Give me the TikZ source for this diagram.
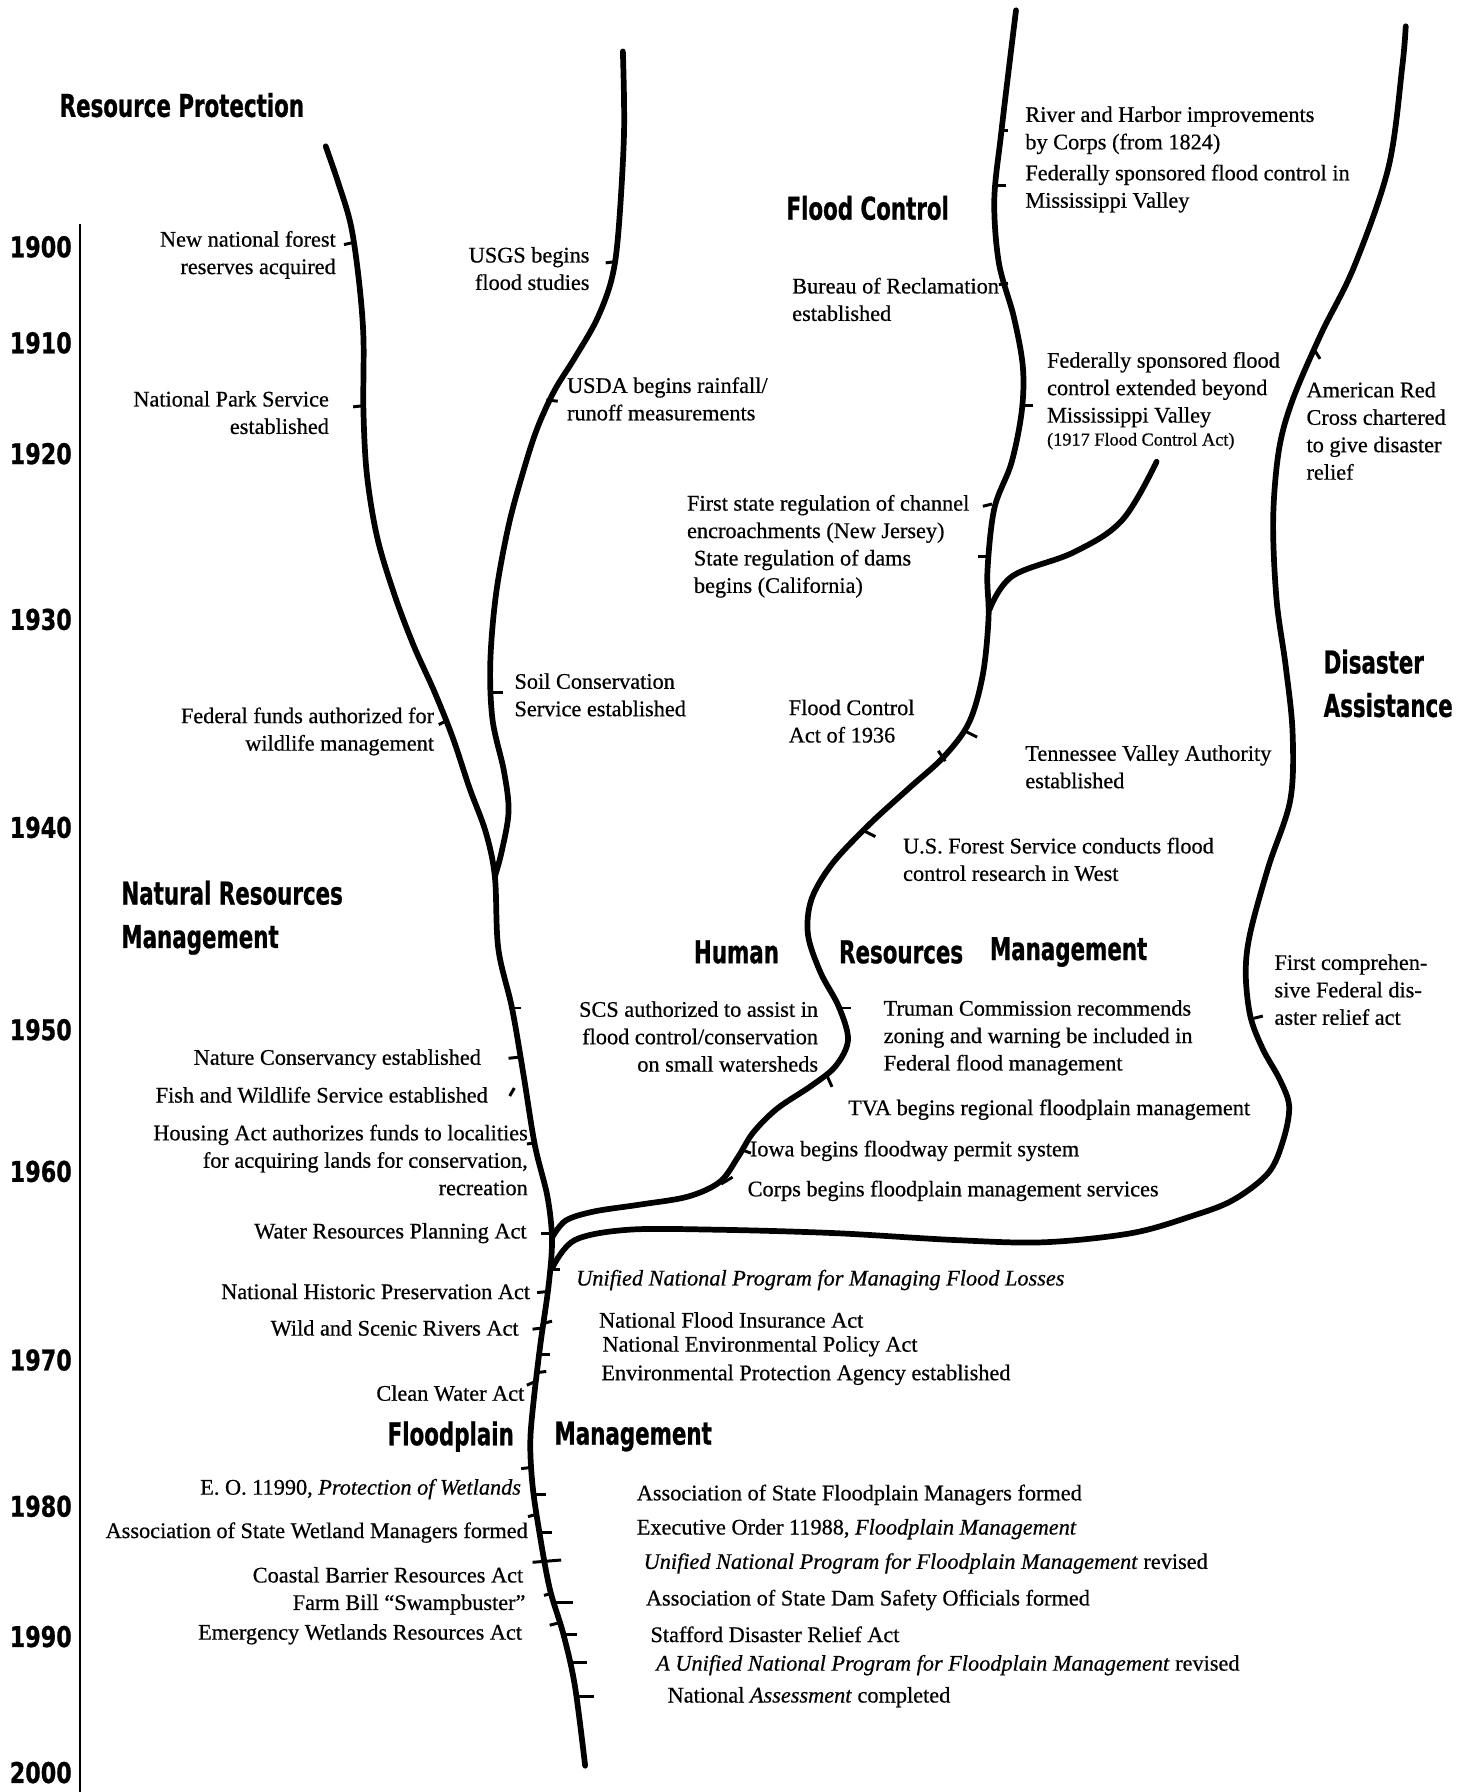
\documentclass[tikz,border=0pt]{standalone}
\usepackage{fontspec}
\setmainfont{Liberation Serif}[FakeBold=0.6]
\newfontfamily\headfont{DejaVu Sans}[FakeStretch=0.68,FakeBold=0.8]
\newfontfamily\yearfont{DejaVu Sans}[FakeStretch=0.78,FakeBold=0.8]
\usepackage{tikz}

\begin{document}
\begin{tikzpicture}[
    x=1pt,y=-1pt,
    branch/.style={line width=5pt,line cap=round,line join=round},
    notch/.style={line width=2.6pt},
    evl/.style={inner sep=0pt,anchor=west,align=left,font=\fontsize{19.5}{24}\selectfont},
    evr/.style={inner sep=0pt,anchor=east,align=right,font=\fontsize{19.5}{24}\selectfont},
    theme/.style={inner sep=0pt,anchor=west,align=left,font=\headfont\bfseries\fontsize{27.5}{38}\selectfont},
    decade/.style={inner sep=0pt,anchor=east,font=\yearfont\bfseries\fontsize{25}{30}\selectfont},
]
    \useasboundingbox (0,0) rectangle (1285,1568);
    % time axis
    \draw[line width=2pt] (70,196) -- (70,1568);
    \node[decade] (y1900) at (63,216) {1900};
    \node[decade] (y1910) at (63,300) {1910};
    \node[decade] (y1920) at (63,397) {1920};
    \node[decade] (y1930) at (63,542) {1930};
    \node[decade] (y1940) at (63,724) {1940};
    \node[decade] (y1950) at (63,901) {1950};
    \node[decade] (y1960) at (63,1025) {1960};
    \node[decade] (y1970) at (63,1190) {1970};
    \node[decade] (y1980) at (63,1318) {1980};
    \node[decade] (y1990) at (63,1432) {1990};
    \node[decade] (y2000) at (63,1551) {2000};
    % headings
    \node[theme] (rp) at (52,92) {Resource Protection};
    \node[theme] (fc) at (688,182) {Flood Control};
    \node[theme] (da) at (1158,598) {Disaster\\Assistance};
    \node[theme] (nrm) at (106,803) {Natural Resources\\Management};
    \node[theme] (hum) at (607,833) {Human};
    \node[theme] (hres) at (734,833) {Resources};
    \node[theme] (hman) at (866,833) {Management};
    \node[theme] (fp) at (339,1257) {Floodplain};
    \node[theme] (fpm) at (485,1257) {Management};
    % branches
    \draw[branch] plot[smooth,tension=0.55] coordinates {(285,128) (296,160) (307,197) (314,245) (318,295) (318,359) (321,415) (330,470) (345,520) (362,565) (380,605) (396,645) (411,690) (425,728) (433,767) (436,830) (448,882) (458,940) (468,1002) (479,1047) (483,1085) (480,1125) (473,1175) (467,1225) (464,1262) (466,1300) (472,1341) (481,1390) (493,1430) (503,1475) (512,1545)};
    \draw[branch] plot[smooth,tension=0.55] coordinates {(545,45) (546,117) (541,204) (535,245) (522,280) (503,313) (485,342) (470,375) (458,412) (445,460) (434,520) (429,580) (431,630) (441,675) (445,710) (439,745) (433,767)};
    \draw[branch] plot[smooth,tension=0.55] coordinates {(889,9) (883,58) (876,117) (870,175) (874,230) (887,277) (895,321) (894,360) (885,405) (870,445) (864,500) (865,540) (860,590) (848,632) (826,662) (795,690) (760,722) (728,756) (710,787) (707,818) (718,851) (734,881) (742,910) (731,933) (710,950) (680,970) (659,991) (646,1012) (630,1034) (602,1047) (560,1054) (520,1060) (495,1068) (483,1083)};
    \draw[branch] plot[smooth,tension=0.6] coordinates {(866,533) (886,504) (940,483) (982,455) (1012,404)};
    \draw[branch] plot[smooth,tension=0.55] coordinates {(1230,23) (1227,58) (1215,146) (1185,233) (1156,292) (1131,350) (1119,394) (1114,455) (1117,525) (1125,583) (1131,641) (1129,700) (1110,758) (1094,816) (1090,851) (1094,889) (1105,918) (1120,945) (1128,968) (1123,997) (1110,1026) (1079,1050) (1043,1064) (990,1079) (913,1087) (835,1085) (731,1079) (628,1076) (550,1076) (503,1085) (484,1108)};
    % notches
    \draw[notch] (310,212) -- (301,214);
    \draw[notch] (318,355) -- (309,356);
    \draw[notch] (392,630) -- (384,634);
    \draw[notch] (538,229) -- (530,230);
    \draw[notch] (478,350) -- (488,351);
    \draw[notch] (430,606) -- (440,606);
    \draw[notch] (448,882) -- (456,882);
    \draw[notch] (454,925) -- (445,926);
    \draw[notch] (446,959) -- (450,952);
    \draw[notch] (468,1000) -- (461,1001);
    \draw[notch] (483,1079) -- (473,1079);
    \draw[notch] (482,1111) -- (490,1111);
    \draw[notch] (480,1130) -- (470,1131);
    \draw[notch] (475,1162) -- (466,1163);
    \draw[notch] (475,1158) -- (483,1156);
    \draw[notch] (472,1185) -- (481,1185);
    \draw[notch] (470,1201) -- (478,1200);
    \draw[notch] (468,1209) -- (461,1212);
    \draw[notch] (465,1284) -- (456,1285);
    \draw[notch] (468,1308) -- (478,1308);
    \draw[notch] (470,1325) -- (462,1327);
    \draw[notch] (472,1341) -- (483,1341);
    \draw[notch] (466,1367) -- (491,1365);
    \draw[notch] (483,1394) -- (476,1396);
    \draw[notch] (485,1402) -- (501,1402);
    \draw[notch] (489,1420) -- (481,1422);
    \draw[notch] (493,1430) -- (505,1430);
    \draw[notch] (499,1455) -- (514,1455);
    \draw[notch] (505,1484) -- (520,1484);
    \draw[notch] (874,114) -- (882,114);
    \draw[notch] (870,162) -- (880,162);
    \draw[notch] (882,248) -- (874,249);
    \draw[notch] (895,355) -- (904,355);
    \draw[notch] (868,441) -- (860,443);
    \draw[notch] (864,487) -- (856,487);
    \draw[notch] (845,640) -- (855,645);
    \draw[notch] (821,657) -- (827,666);
    \draw[notch] (756,727) -- (766,732);
    \draw[notch] (736,882) -- (745,882);
    \draw[notch] (724,942) -- (728,951);
    \draw[notch] (649,1006) -- (657,1009);
    \draw[notch] (631,1036) -- (641,1030);
    \draw[notch] (1150,306) -- (1155,314);
    \draw[notch] (1097,891) -- (1105,889);
    % events
    \node[evr] (forest) at (294,223) {New national forest\\reserves acquired};
    \node[evr] (nps) at (288,361) {National Park Service\\established};
    \node[evr] (wildfund) at (380,640) {Federal funds authorized for\\wildlife management};
    \node[evr] (usgs) at (516,235) {USGS begins\\flood studies};
    \node[evl] (usda) at (496,349) {USDA begins rainfall/\\runoff measurements};
    \node[evl] (soil) at (450,608) {Soil Conservation\\Service established};
    \node[evl] (harbor) at (897,114) {River and Harbor improvements\\by Corps (from 1824)};
    \node[evl] (missfc) at (897,165) {Federally sponsored flood control in\\Mississippi Valley};
    \node[evl] (reclam) at (693,262) {Bureau of Reclamation\\established};
    \node[evl] (beyond) at (916,341) {Federally sponsored flood\\control extended beyond\\Mississippi Valley};
    \node[evl,font=\fontsize{16}{18}\selectfont] (fca17) at (916,386) {(1917 Flood Control Act)};
    \node[evl] (njreg) at (601,454) {First state regulation of channel\\encroachments (New Jersey)};
    \node[evl] (careg) at (607,502) {State regulation of dams\\begins (California)};
    \node[evl] (fca36) at (690,631) {Flood Control\\Act of 1936};
    \node[evl] (tva) at (897,671) {Tennessee Valley Authority\\established};
    \node[evl] (usfs) at (790,752) {U.S. Forest Service conducts flood\\control research in West};
    \node[evr] (scs) at (716,907) {SCS authorized to assist in\\flood control/conservation\\on small watersheds};
    \node[evl] (truman) at (773,908) {Truman Commission recommends\\zoning and warning be included in\\Federal flood management};
    \node[evl] (tvafp) at (742,971) {TVA begins regional floodplain management};
    \node[evl] (iowa) at (656,1007) {Iowa begins floodway permit system};
    \node[evl] (corps) at (654,1042) {Corps begins floodplain management services};
    \node[evl] (redcross) at (1143,377) {American Red\\Cross chartered\\to give disaster\\relief};
    \node[evl] (relief50) at (1115,866) {First comprehen-\\sive Federal dis-\\aster relief act};
    \node[evr] (tnc) at (421,927) {Nature Conservancy established};
    \node[evr] (fws) at (427,958) {Fish and Wildlife Service established};
    \node[evr] (housing) at (462,1015) {Housing Act authorizes funds to localities\\for acquiring lands for conservation,\\recreation};
    \node[evr] (wrpa) at (461,1079) {Water Resources Planning Act};
    \node[evr] (nhpa) at (464,1130) {National Historic Preservation Act};
    \node[evr] (wsr) at (454,1162) {Wild and Scenic Rivers Act};
    \node[evr] (cwa) at (459,1219) {Clean Water Act};
    \node[evr] (eo11990) at (456,1303) {E. O. 11990, \textit{Protection of Wetlands}};
    \node[evr] (aswm) at (462,1341) {Association of State Wetland Managers formed};
    \node[evr] (cbra) at (458,1378) {Coastal Barrier Resources Act};
    \node[evr] (farm) at (460,1404) {Farm Bill “Swampbuster”};
    \node[evr] (ewra) at (457,1430) {Emergency Wetlands Resources Act};
    \node[evl] (unp66) at (504,1120) {\textit{Unified National Program for Managing Flood Losses}};
    \node[evl] (nfia) at (524,1155) {National Flood Insurance Act};
    \node[evl] (nepa) at (527,1178) {National Environmental Policy Act};
    \node[evl] (epa) at (526,1203) {Environmental Protection Agency established};
    \node[evl] (asfpm) at (557,1308) {Association of State Floodplain Managers formed};
    \node[evl] (eo11988) at (557,1338) {Executive Order 11988, \textit{Floodplain Management}};
    \node[evl] (unp79) at (563,1368) {\textit{Unified National Program for Floodplain Management} revised};
    \node[evl] (asdso) at (565,1400) {Association of State Dam Safety Officials formed};
    \node[evl] (stafford) at (569,1430) {Stafford Disaster Relief Act};
    \node[evl] (unp94) at (574,1457) {\textit{A Unified National Program for Floodplain Management} revised};
    \node[evl] (assess) at (584,1485) {National \textit{Assessment} completed};
\end{tikzpicture}
\end{document}
